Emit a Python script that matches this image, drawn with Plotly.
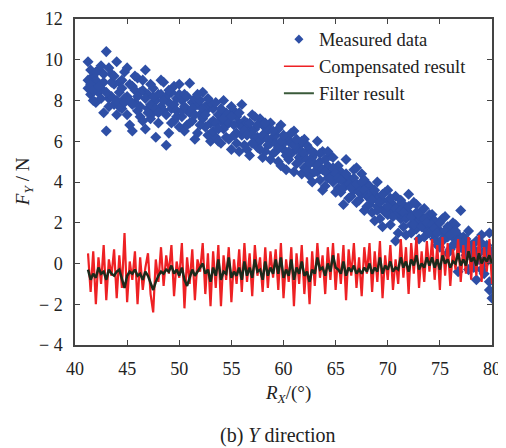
import plotly.graph_objects as go

rx = [41.25, 41.5, 41.75, 42, 42.25, 42.5, 42.75, 43, 43.25, 43.5, 43.75, 44,
      44.25, 44.5, 44.75, 45, 45.25, 45.5, 45.75, 46, 46.25, 46.5, 46.75, 47,
      47.25, 47.5, 47.75, 48, 48.25, 48.5, 48.75, 49, 49.25, 49.5, 49.75, 50,
      50.25, 50.5, 50.75, 51, 51.25, 51.5, 51.75, 52, 52.25, 52.5, 52.75, 53,
      53.25, 53.5, 53.75, 54, 54.25, 54.5, 54.75, 55, 55.25, 55.5, 55.75, 56,
      56.25, 56.5, 56.75, 57, 57.25, 57.5, 57.75, 58, 58.25, 58.5, 58.75, 59,
      59.25, 59.5, 59.75, 60, 60.25, 60.5, 60.75, 61, 61.25, 61.5, 61.75, 62,
      62.25, 62.5, 62.75, 63, 63.25, 63.5, 63.75, 64, 64.25, 64.5, 64.75, 65,
      65.25, 65.5, 65.75, 66, 66.25, 66.5, 66.75, 67, 67.25, 67.5, 67.75, 68,
      68.25, 68.5, 68.75, 69, 69.25, 69.5, 69.75, 70, 70.25, 70.5, 70.75, 71,
      71.25, 71.5, 71.75, 72, 72.25, 72.5, 72.75, 73, 73.25, 73.5, 73.75, 74,
      74.25, 74.5, 74.75, 75, 75.25, 75.5, 75.75, 76, 76.25, 76.5, 76.75, 77,
      77.25, 77.5, 77.75, 78, 78.25, 78.5, 78.75, 79, 79.25, 79.5, 79.75, 80]

measured_a = [9.9, 8.3, 9.2, 7.9, 9.5, 8.6, 7.4, 10.4, 8.1, 9.3, 7.8, 9.9,
              8.9, 7.6, 9.4, 8.2, 6.8, 8.7, 7.9, 9.1, 7.2, 8.5, 6.6, 8.3,
              7.1, 8.6, 6.2, 8.3, 7.7, 8.9, 5.8, 7.9, 8.4, 7.0, 8.1, 6.7,
              8.0, 6.5, 7.5, 8.85, 7.0, 6.1, 7.8, 7.3, 8.4, 6.7, 7.6, 6.0,
              7.6, 6.2, 7.3, 5.9, 8.0, 6.8, 7.1, 5.6, 7.5, 6.4, 6.9, 7.8,
              7.0, 5.6, 6.6, 7.3, 5.9, 6.2, 7.1, 5.2, 6.4, 5.8, 6.9, 5.4,
              6.3, 5.0, 6.8, 5.6, 4.6, 6.0, 5.4, 6.5, 4.9, 5.8, 4.4, 6.1,
              5.8, 4.3, 5.2, 4.9, 6.0, 4.1, 5.5, 3.8, 4.8, 5.3, 4.0, 4.6,
              4.8, 3.5, 4.3, 5.1, 3.2, 4.0, 4.6, 3.0, 3.8, 4.4, 2.6, 3.9,
              3.8, 2.5, 3.4, 4.0, 2.2, 3.1, 2.7, 3.6, 1.9, 2.9, 3.3, 1.5,
              3.1, 1.8, 2.6, 3.4, 1.5, 2.3, 2.9, 1.2, 2.0, 2.7, 1.6, 2.4,
              2.4, 1.2, 1.9, 0.8, 2.2, 1.5, 0.5, 1.7, 2.0, 1.0, 1.4, 2.6,
              1.3, 0.4, 1.6, 0.8, -0.2, 1.1, 0.5, 1.4, 0.0, 0.9, -1.3, 0.6]

measured_b = [8.6, 9.5, 8.0, 9.0, 8.4, 9.7, 8.9, 6.5, 9.6, 8.2, 8.8, 7.3,
              7.7, 9.0, 8.1, 7.3, 8.8, 6.5, 9.2, 7.5, 8.4, 7.0, 9.5, 7.6,
              8.8, 7.4, 8.0, 6.9, 9.0, 7.5, 8.2, 6.4, 7.6, 8.7, 7.2, 8.3,
              7.2, 8.3, 6.8, 7.4, 7.9, 8.1, 6.4, 8.0, 7.1, 7.7, 6.3, 7.9,
              6.5, 7.9, 6.0, 7.0, 6.6, 7.4, 6.1, 7.7, 6.3, 7.2, 5.5, 6.7,
              5.8, 6.9, 5.3, 6.3, 7.2, 5.7, 6.0, 6.8, 5.5, 6.6, 5.1, 6.2,
              5.5, 6.6, 4.8, 5.9, 6.2, 5.1, 6.4, 4.5, 5.6, 5.2, 6.0, 4.7,
              4.6, 5.6, 4.0, 5.4, 4.5, 5.0, 3.6, 5.1, 4.2, 4.4, 5.2, 3.5,
              3.7, 4.5, 2.9, 3.9, 4.2, 3.3, 3.6, 4.7, 3.1, 3.4, 4.1, 2.8,
              2.9, 3.6, 2.1, 2.8, 3.2, 1.8, 3.5, 2.4, 3.0, 2.6, 1.1, 2.8,
              2.2, 2.9, 1.4, 2.5, 1.9, 3.0, 1.7, 2.1, 2.6, 1.3, 2.2, 1.8,
              1.5, 2.1, 0.9, 1.6, 1.1, 2.3, 1.8, 0.7, 1.3, 1.9, -0.4, 1.2,
              0.7, 1.2, -0.3, 0.9, 0.2, -0.8, 0.6, 1.0, -0.5, 0.3, 1.5, -1.7]

measured_c = [9.0, 8.8, 8.5, 9.4, 8.7, 8.1, 9.3, 8.4, 7.7, 8.9, 9.2, 8.0,
              8.4, 8.6, 7.9, 9.6, 8.0, 7.8, 8.5, 8.2, 7.7, 9.0, 8.1, 7.4,
              7.8, 8.2, 7.6, 7.4, 8.3, 8.0, 7.3, 8.5, 6.9, 7.8, 7.5, 8.8,
              7.5, 7.7, 8.2, 6.9, 7.6, 7.3, 8.3, 6.8, 7.6, 7.3, 8.1, 6.9,
              7.0, 6.9, 6.6, 7.6, 7.1, 6.2, 6.9, 7.2, 6.8, 5.9, 7.4, 6.3,
              6.5, 6.3, 6.9, 5.9, 6.6, 6.8, 5.6, 6.3, 6.9, 6.1, 5.9, 6.5,
              5.9, 5.7, 6.0, 6.3, 5.3, 5.5, 5.9, 5.8, 6.1, 5.0, 5.5, 5.4,
              5.1, 4.9, 5.5, 4.5, 4.8, 5.4, 4.6, 4.5, 5.5, 4.2, 4.7, 4.4,
              4.2, 4.1, 3.7, 4.4, 3.9, 3.7, 4.2, 3.9, 3.5, 4.0, 3.6, 3.3,
              3.3, 3.1, 3.6, 2.6, 3.0, 3.4, 2.5, 2.8, 3.2, 2.3, 2.7, 2.5,
              2.6, 2.5, 2.2, 2.8, 2.3, 1.9, 2.5, 2.4, 1.8, 2.2, 2.0, 1.5,
              1.9, 1.7, 1.5, 2.0, 1.2, 1.6, 1.3, 1.4, 0.9, 1.6, 1.1, 0.8,
              1.0, 0.8, 0.9, 0.4, 0.7, 0.5, 0.2, -0.3, 0.6, 0.1, -0.9, 0.4]

compensated = [0.5, -1.4, 0.6, -2.0, 0.3, -1.0, 0.9, -1.8, 0.2, -0.6, 0.7, -1.7,
               0.4, -1.2, 1.5, -1.9, 0.1, -0.8, 0.6, -2.0, 0.3, -1.3, -0.2, 0.5,
               -1.5, -2.4, 0.2, -0.9, 0.8, -1.1, 0.4, -0.5, 0.9, -1.6, 0.1, -0.7,
               1.0, -2.2, 0.3, -1.0, 0.7, -1.8, 0.2, -0.4, 1.0, -1.5, 0.5, -2.1,
               0.6, -1.2, 0.9, -2.1, 0.4, -0.8, 0.8, -1.9, 0.2, -1.0, 0.7, -1.4,
               1.0, -0.9, 0.5, -1.6, 0.9, -0.6, 0.3, -1.4, 0.8, -1.2, 0.6, -0.7,
               0.7, -1.3, 1.0, -1.7, 0.2, -0.9, 0.8, -2.1, 0.5, -1.0, 0.9, -1.5,
               0.3, -2.0, 0.6, -1.1, 1.0, -0.7, 0.4, -1.5, 0.8, -0.8, 1.0, -1.3,
               0.5, -1.0, 0.9, -1.8, 0.7, -0.6, 1.0, -1.2, 0.3, -1.6, 0.8, -0.5,
               1.0, -1.4, 0.6, -0.9, 1.1, -1.7, 0.4, -0.8, 0.9, -1.3, 0.2, -1.0,
               1.2, -0.7, 0.8, -1.5, 1.0, -0.5, 1.3, -1.2, 0.6, -0.9, 1.1, -0.4,
               1.2, -0.8, 0.9, -1.3, 1.3, -0.6, 1.0, -1.1, 0.7, -0.3, 1.2, -0.9,
               0.9, -0.5, 1.3, -0.8, 1.1, -0.6, 1.4, -0.9, 0.8, -0.4, 1.2, -1.0]

filtered = [-0.3, -0.8, -0.5, -0.7, -0.2, -0.5, -0.4, -0.8, -0.3, -0.5, -0.6, -0.4,
            -0.3, -0.7, -1.2, -0.6, -0.4, -0.5, -0.3, -0.6, -0.5, -0.8, -0.4, -0.6,
            -1.0, -1.3, -0.9, -0.6, -0.4, -0.5, -0.3, -0.4, -0.1, -0.5, -0.3, -0.6,
            -0.2, -0.8, -1.1, -0.7, -0.3, -0.6, -0.4, -0.2, 0.0, -0.5, -0.3, -0.9,
            -0.2, -0.6, 0.2, -0.8, -0.4, -0.5, 0.3, -0.7, -0.4, -0.6, -0.2, -0.8,
            0.1, -0.6, -0.2, -0.7, 0.2, -0.4, -0.3, -0.8, 0.1, -0.6, -0.2, -0.5,
            0.2, -0.5, 0.3, -0.7, -0.3, -0.6, 0.2, -0.8, -0.2, -0.5, 0.1, -0.6,
            -0.4, -0.9, -0.3, -0.5, 0.3, -0.3, -0.2, -0.6, 0.0, -0.4, 0.4, -0.2,
            -0.3, -0.5, 0.1, -0.6, -0.2, -0.4, -0.1, -0.5, -0.3, -0.5, -0.2, -0.4,
            0.0, -0.5, -0.2, -0.4, 0.3, -0.5, -0.1, -0.3, 0.1, -0.4, -0.2, -0.3,
            0.3, -0.2, 0.1, -0.4, 0.2, -0.1, 0.4, -0.3, 0.0, -0.2, 0.3, -0.1,
            0.3, -0.2, 0.2, -0.3, 0.4, 0.0, 0.2, -0.2, 0.1, 0.0, 0.5, -0.1,
            0.2, -0.1, 0.6, 0.1, 0.3, -0.1, 0.5, 0.0, 0.3, 0.1, 0.4, 0.0]

x_ticks = [40, 45, 50, 55, 60, 65, 70, 75, 80]
y_ticks = [-4, -2, 0, 2, 4, 6, 8, 10, 12]
y_ticklabels = ["\u2212 4", "\u2212 2", "0", "2", "4", "6", "8", "10", "12"]

FONT = "Liberation Serif, Times New Roman, serif"
BLUE = "#2e4fa6"
RED = "#ee2124"
DARK = "#1b2a1b"
TXT = "#222222"

fig = go.Figure()
fig.add_trace(go.Scatter(
    x=rx + rx + rx, y=measured_a + measured_b + measured_c, mode="markers",
    name="Measured data", showlegend=False,
    marker=dict(symbol="diamond", size=8.5, color=BLUE, line=dict(width=0)),
))
fig.add_trace(go.Scatter(
    x=rx, y=compensated, mode="lines", name="Compensated result", showlegend=False,
    line=dict(color=RED, width=2.2),
))
fig.add_trace(go.Scatter(
    x=rx, y=filtered, mode="lines", name="Filter result", showlegend=False,
    line=dict(color=DARK, width=2.5),
))
# legend entries
fig.add_trace(go.Scatter(
    x=[None], y=[None], mode="markers", name="Measured data",
    marker=dict(symbol="diamond", size=7, color=BLUE),
))
fig.add_trace(go.Scatter(
    x=[None], y=[None], mode="lines", name="Compensated result",
    line=dict(color=RED, width=1.5),
))
fig.add_trace(go.Scatter(
    x=[None], y=[None], mode="lines", name="Filter result",
    line=dict(color="#3a5a3a", width=2),
))

axis_common = dict(
    showline=True, linecolor="#444444", linewidth=1.5, mirror="ticks",
    ticks="inside", ticklen=5, tickwidth=1.2, tickcolor="#444444",
    showgrid=False, zeroline=False, ticklabelstandoff=7,
    ticklabeloverflow="allow",
    tickfont=dict(family=FONT, size=18, color=TXT),
)

# page body adds an 8 px offset, so the figure is 8 px smaller
fig.update_layout(
    width=498, height=440,
    margin=dict(l=67, r=14, t=11, b=103, autoexpand=False),
    paper_bgcolor="white", plot_bgcolor="white",
    showlegend=True,
    legend=dict(
        x=0.489, y=0.995, xanchor="left", yanchor="top",
        bgcolor="rgba(0,0,0,0)", borderwidth=0,
        font=dict(family=FONT, size=18.5, color=TXT),
        tracegroupgap=0, itemsizing="trace",
    ),
    xaxis=dict(range=[40, 80], tickvals=x_ticks, ticktext=[str(v) for v in x_ticks], **axis_common),
    yaxis=dict(range=[-4, 12], tickvals=y_ticks, ticktext=y_ticklabels, **axis_common),
)

fig.add_annotation(
    text="<i>R</i><sub><i>X</i></sub>/(°)", xref="paper", yref="paper",
    x=0.511, y=-0.150, xanchor="center", yanchor="middle", showarrow=False,
    font=dict(family=FONT, size=19, color=TXT),
)
fig.add_annotation(
    text="<i>F</i><sub><i>Y</i></sub> / N", xref="paper", yref="paper",
    x=-0.122, y=0.5, xanchor="center", yanchor="middle", showarrow=False,
    textangle=-90, font=dict(family=FONT, size=19, color=TXT),
)
fig.add_annotation(
    text="(b) <i>Y</i> direction", xref="paper", yref="paper",
    x=0.487, y=-0.279, xanchor="center", yanchor="middle", showarrow=False,
    font=dict(family=FONT, size=20, color=TXT),
)

fig.write_html("out.html")
